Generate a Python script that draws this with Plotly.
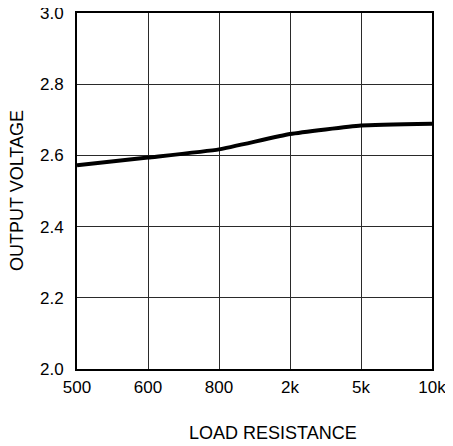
import plotly.graph_objects as go

resistance = ["500", "600", "800", "2k", "5k", "10k"]
output_voltage = [2.572, 2.594, 2.617, 2.660, 2.684, 2.689]
y_ticks = [2.0, 2.2, 2.4, 2.6, 2.8, 3.0]
y_tick_labels = ["2.0", "2.2", "2.4", "2.6", "2.8", "3.0"]

font = "Liberation Sans, Arial, sans-serif"

# page body adds an 8px margin, so the figure is drawn 8px smaller
fig = go.Figure()
fig.add_trace(go.Scatter(
    x=resistance, y=output_voltage, mode="lines",
    line=dict(color="black", width=4, shape="spline", smoothing=0.4),
    showlegend=False, hoverinfo="skip"))

fig.update_layout(
    width=445, height=438,
    margin=dict(l=69, r=21, t=5, b=77),
    paper_bgcolor="white", plot_bgcolor="white",
    font=dict(family=font, size=17, color="black"),
    xaxis=dict(type="category", range=[0, 5], showgrid=True, automargin=False,
               gridcolor="#2a2a2a", gridwidth=1,
               showline=True, linecolor="black", linewidth=2, mirror=True,
               ticks="", ticklabelstandoff=2, zeroline=False,
               ticklabeloverflow="allow",
               tickfont=dict(size=17)),
    yaxis=dict(range=[2.0, 3.0], tickvals=y_ticks, ticktext=y_tick_labels,
               automargin=False,
               showgrid=True, gridcolor="#2a2a2a", gridwidth=1,
               showline=True, linecolor="black", linewidth=2, mirror=True,
               ticks="", zeroline=False, ticklabelstandoff=8,
               ticklabeloverflow="allow",
               tickfont=dict(size=17)),
    annotations=[
        dict(text="LOAD RESISTANCE", xref="paper", yref="paper",
             x=(273 - 77) / 355, y=-(433 - 369) / 356, xanchor="center", yanchor="middle",
             showarrow=False, borderpad=0, font=dict(size=18)),
        dict(text="OUTPUT VOLTAGE", xref="paper", yref="paper",
             x=-(77 - 17) / 355, y=0.5, xanchor="center", yanchor="middle",
             textangle=-90, showarrow=False, borderpad=0, font=dict(size=18)),
    ],
)

fig.write_html("out.html")
